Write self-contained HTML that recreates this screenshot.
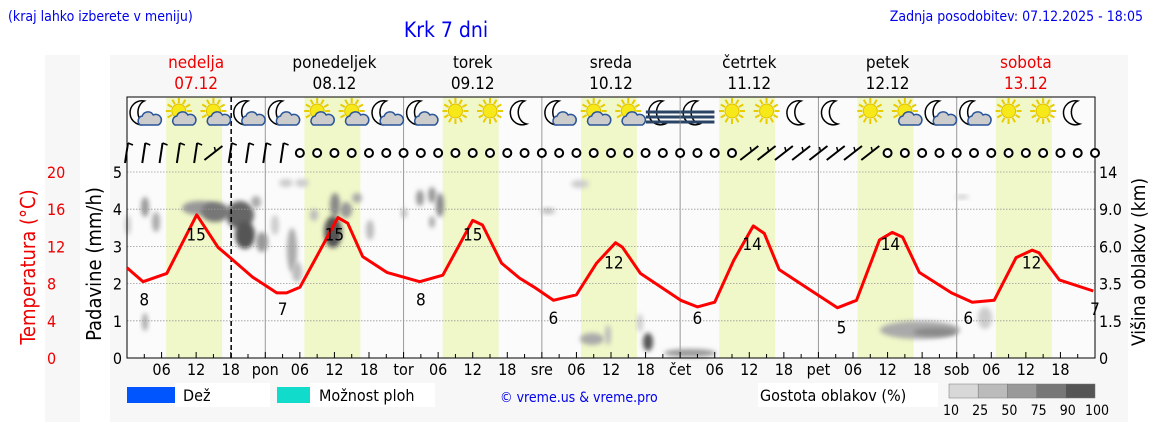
<!DOCTYPE html>
<html><head><meta charset="utf-8"><style>
html,body{margin:0;padding:0;background:#fff;width:1152px;height:443px;overflow:hidden}
svg{display:block;font-family:"DejaVu Sans Condensed","DejaVu Sans","Liberation Sans",sans-serif}
</style></head><body>
<svg id="chart" width="1152" height="443" viewBox="0 0 1152 443" xmlns="http://www.w3.org/2000/svg">
<defs>
<filter id="blur" x="-50%" y="-50%" width="200%" height="200%"><feGaussianBlur stdDeviation="2.5"/></filter>
</defs>
<rect x="45" y="55" width="35" height="367" fill="#f7f7f7"/>
<rect x="110" y="55" width="1018" height="367" fill="#f7f7f7"/>
<text x="8" y="21" font-size="14" fill="#0000ee">(kraj lahko izberete v meniju)</text>
<text x="446" y="37" font-size="21" fill="#0000ee" text-anchor="middle">Krk 7 dni</text>
<text x="1143" y="21" font-size="14" fill="#0000ee" text-anchor="end">Zadnja posodobitev: 07.12.2025 - 18:05</text>
<g id="plot"></g>
<g id="legend">
<rect x="175" y="383" width="95" height="24" fill="#fff"/>
<rect x="127" y="387" width="48" height="16" fill="#0055ff"/>
<text x="183" y="401" font-size="16" fill="#000">Dež</text>
<rect x="310" y="383" width="125" height="24" fill="#fff"/>
<rect x="277" y="387" width="33" height="16" fill="#11dccc"/>
<text x="319" y="401" font-size="16" fill="#000">Možnost ploh</text>
<text x="500" y="402" font-size="14" fill="#0000ee">© vreme.us &amp; vreme.pro</text>
<rect x="758" y="383" width="180" height="24" fill="#fff"/>
<text x="760" y="401" font-size="16" fill="#000">Gostota oblakov (%)</text>
</g>
</svg>
<script>
const temps=[9.7,8.2,9.1,15.4,11.9,10.8,8.7,7.0,7.0,7.6,10.2,15.1,14.5,10.9,9.2,8.2,8.9,14.8,14.3,10.2,8.6,7.6,6.2,6.8,10.2,12.4,11.9,9.1,6.2,5.5,6.0,10.5,14.2,13.4,9.5,7.3,5.4,6.2,12.7,13.5,13.0,9.2,7.0,6.0,6.2,10.8,11.6,11.3,8.4,7.2];
const tempHours=[0,2.8,6.9,12.1,15.8,17.9,21.8,26,27.7,30,32.3,36.6,38.3,40.9,45.1,50.8,54.8,60,61.7,65,68.1,70.7,74,78,81.5,84.8,86,89.1,96.1,99,102,105.3,108.7,110.6,113.2,118.6,123.3,126.6,130.6,132.8,134.6,137.5,143.1,146.7,150.5,154.3,157.1,158.3,161.8,167.7];
const labelHours=[3,12,27,36,51,60,74,84.5,99,108.5,124,132.5,146,157,168];
const labelValues=[8,15,7,15,8,15,6,12,6,14,5,14,6,12,7];
const dayNames=["nedelja","ponedeljek","torek","sreda","četrtek","petek","sobota"];
const dayDates=["07.12","08.12","09.12","10.12","11.12","12.12","13.12"];
const dayAbbr=["","pon","tor","sre","čet","pet","sob"];
const rainTicks=[0,1,2,3,4,5];
const tempTicks=[0,4,8,12,16,20];
const cloudTicks=["0","1.5","3.5","6.0","9.0","14"];
const icons=["mc","sc","sc","mc","mc","sc","sc","mc","mc","s","s","m","mc","sc","sc","fm","fm","s","s","m","m","s","sc","mc","mc","s","s","m"];
const wind=["b","b","b","b","b","d","b","b","b","b","o","o","o","o","o","o","o","o","o","o","o","o","o","o","o","o","o","o","o","o","o","o","o","o","o","o","d","d","d","d","d","d","d","d","o","o","o","o","o","o","o","o","o","o","o","o","o"];
const cloudLegend=["10","25","50","75","90","100"];
const nowHour=18.08;

const NS="http://www.w3.org/2000/svg";
const X0=127,X1=1095,Y0=358,Y1=172,TOP=97;
const xH=h=>X0+(X1-X0)*h/168;
const yT=t=>Y0-(Y0-Y1)*t/20;
const yR=r=>Y0-(Y0-Y1)*r/5;
const g=document.getElementById('plot');
function mk(tag,attrs,parent,txt){const e=document.createElementNS(NS,tag);for(const k in attrs)e.setAttribute(k,attrs[k]);if(txt!==undefined)e.textContent=String(txt);(parent||g).appendChild(e);return e;}

const bg=mk('rect',{x:X0,y:TOP,width:X1-X0,height:Y0-TOP,fill:'#fbfbfb'});


for(let d=0;d<7;d++){
  const b=mk('rect',{x:xH(d*24+6.8),y:TOP,width:xH(16.5)-xH(6.8),height:Y0-TOP,fill:'#f0f7c8'});
  
  
}
for(let d=1;d<7;d++){
  const l=mk('line',{x1:xH(d*24),x2:xH(d*24),y1:TOP,y2:Y0,stroke:'#999','stroke-width':1});
  
  
}
const blobs=[[145,207,4,10,'#999'],[156,222,4,10,'#aaa'],[128,225,3,10,'#ccc'],[200,208,18,7,'#999'],[215,212,14,10,'#777'],[240,215,14,14,'#666'],[245,235,10,14,'#555'],[262,242,6,10,'#999'],[256,202,5,6,'#aaa'],[292,250,5,22,'#aaa'],[297,272,5,10,'#bbb'],[286,183,7,4,'#ccc'],[302,183,7,4,'#ccc'],[314,215,4,6,'#bbb'],[335,205,5,12,'#888'],[333,232,9,16,'#555'],[346,210,6,8,'#999'],[370,230,4,10,'#bbb'],[357,198,5,5,'#aaa'],[275,225,4,10,'#ccc'],[420,198,4,8,'#999'],[432,195,4,8,'#999'],[440,205,4,12,'#888'],[432,222,3,6,'#aaa'],[404,213,3,5,'#bbb'],[145,322,3,9,'#aaa'],[580,184,9,4,'#ccc'],[548,211,7,3,'#bbb'],[592,339,12,6,'#aaa'],[608,335,3,10,'#bbb'],[640,323,3,9,'#ccc'],[648,342,5,9,'#555'],[690,353,26,4,'#999'],[920,330,40,9,'#aaa'],[935,332,22,4,'#888'],[985,318,7,11,'#ccc'],[962,197,7,2,'#ccc']];
blobs.forEach(b=>{const e=mk('ellipse',{cx:b[0],cy:b[1],rx:b[2],ry:b[3],fill:b[4],filter:'url(#blur)'});
  
  });
rainTicks.forEach(r=>{if(r>0){const l=mk('line',{x1:X0,x2:X1,y1:yR(r),y2:yR(r),stroke:'#999','stroke-width':0.8,'stroke-dasharray':'1.5,1.5'});
  
  }});
const fr=mk('rect',{x:X0,y:TOP,width:X1-X0,height:Y0-TOP,fill:'none',stroke:'#000','stroke-width':1});


const nl=mk('line',{x1:xH(nowHour),x2:xH(nowHour),y1:TOP,y2:Y0,stroke:'#000','stroke-width':1.5,'stroke-dasharray':'5,3'});


for(let h=0;h<=168;h+=3){mk('line',{x1:xH(h),x2:xH(h),y1:Y0,y2:Y0-(h%6==0?6:4),stroke:'#000'});}
for(let d=0;d<7;d++){
  [6,12,18].forEach(hh=>{const t=mk('text',{x:xH(d*24+hh),y:375,'font-size':16,'text-anchor':'middle'},g,String(hh).padStart(2,'0'));
    
    });
  if(dayAbbr[d]){const t=mk('text',{x:xH(d*24),y:375,'font-size':16,'text-anchor':'middle'},g,dayAbbr[d]);
    
    }
  const col=(d==0||d==6)?'#e00':'#000';
  const n=mk('text',{x:xH(d*24+12),y:68,'font-size':17,'text-anchor':'middle',fill:col},g,dayNames[d]);
  
  
  const dt=mk('text',{x:xH(d*24+12),y:89,'font-size':17,'text-anchor':'middle',fill:col},g,dayDates[d]);
  
  
}
rainTicks.forEach(r=>{const t=mk('text',{x:122,y:yR(r)+6,'font-size':16,'text-anchor':'end'},g,r);
  
  });
tempTicks.forEach(t=>{const e=mk('text',{x:47,y:yT(t)+6,'font-size':16,fill:'#e00'},g,t);
  
  });
cloudTicks.forEach((c,i)=>{const e=mk('text',{x:1099,y:Y0-(Y0-Y1)*i/5+6,'font-size':16},g,c);
  
  });
let t1=mk('text',{x:0,y:0,'font-size':20,fill:'#e00','text-anchor':'middle',transform:'translate(35,267) rotate(-90)'},g,'Temperatura (°C)');


let t2=mk('text',{x:0,y:0,'font-size':20,fill:'#000','text-anchor':'middle',transform:'translate(101,264) rotate(-90)'},g,'Padavine (mm/h)');


let t3=mk('text',{x:0,y:0,'font-size':19,fill:'#000','text-anchor':'middle',transform:'translate(1145,262) rotate(-90)'},g,'Višina oblakov (km)');


const pts=temps.map((t,i)=>xH(tempHours[i]).toFixed(1)+','+yT(t).toFixed(1)).join(' ');
const pl=mk('polyline',{points:pts,fill:'none',stroke:'#ff0000','stroke-width':3,'stroke-linejoin':'round'});


labelValues.forEach((v,i)=>{
  const y=yT(v)+22;
  const e=mk('text',{x:Math.min(xH(labelHours[i]),1096),y:y,'font-size':17,'text-anchor':'middle'},g,v);
  
  
});
function moon(cx,cy,p){mk('path',{d:`M${cx+3},${cy-12} A12,12 0 1,0 ${cx+5},${cy+11} A10,12 0 0,1 ${cx+3},${cy-12}Z`,fill:'#fff',stroke:'#000','stroke-width':1.5},p);}
function sun(cx,cy,p){for(let a=0;a<12;a++){const r=a*Math.PI/6;mk('line',{x1:cx+8*Math.cos(r),y1:cy+8*Math.sin(r),x2:cx+13*Math.cos(r),y2:cy+13*Math.sin(r),stroke:'#e8cc00','stroke-width':2},p);}mk('circle',{cx:cx,cy:cy,r:7,fill:'#f7e81a',stroke:'#e0c000'},p);}
function cloud(cx,cy,p){mk('path',{d:`M${cx-9},${cy+5} a5,5 0 0,1 2,-9 a6,6 0 0,1 11,-1 a5,5 0 0,1 5,10 Z`,fill:'#ccc',stroke:'#2a5599','stroke-width':1.5},p);}
icons.forEach((k,i)=>{
  const cx=xH(3+i*6),cy=113;
  const gr=mk('g',{});
  
  
  if(k[0]=='m'){moon(cx-3,cy,gr);}
  if(k[0]=='s'){sun(cx,cy-2,gr);}
  if(k[0]=='f'){moon(cx-3,cy,gr);[0,5,10].forEach(o=>mk('line',{x1:cx-17,x2:cx+17,y1:cy+o-1,y2:cy+o-1,stroke:'#2a4466','stroke-width':3},gr));}
  if(k[1]=='c'){cloud(cx+5,cy+7,gr);}
});
wind.forEach((w,i)=>{
  const cx=xH(i*3),cy=153;
  if(w=='o'){const c=mk('circle',{cx:cx,cy:cy,r:4,fill:'#fff',stroke:'#000','stroke-width':2});
    
    }
  else{const gr=mk('g',{});
    
    
    if(w=='b'){mk('line',{x1:cx-2,y1:cy+10,x2:cx+1,y2:cy-10,stroke:'#000','stroke-width':2},gr);mk('line',{x1:cx+1,y1:cy-10,x2:cx+6,y2:cy-8,stroke:'#000','stroke-width':1.5},gr);}
    else{mk('line',{x1:cx-9,y1:cy+7,x2:cx+9,y2:cy-7,stroke:'#000','stroke-width':2},gr);mk('line',{x1:cx+2,y1:cy-2,x2:cx+1,y2:cy-6,stroke:'#000','stroke-width':1.5},gr);}
  }
});
const greys=['#d8d8d8','#bbb','#999','#777','#555'];
greys.forEach((c,i)=>{const r=mk('rect',{x:949+i*29.2,y:384,width:29.2,height:14,fill:c,stroke:'#777','stroke-width':0.5});
  
  });
cloudLegend.forEach((l,i)=>{const t=mk('text',{x:951+i*29.2,y:415,'font-size':14,'text-anchor':'middle'},g,l);
  
  });
</script>
</body></html>
